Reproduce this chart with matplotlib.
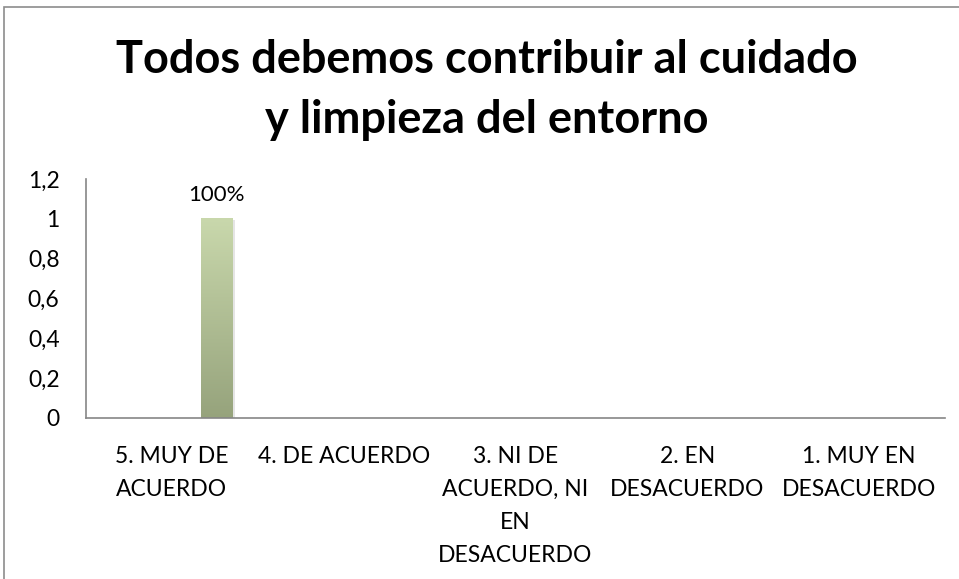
import matplotlib
matplotlib.use("Agg")
import matplotlib.pyplot as plt
import numpy as np
from matplotlib.patches import Rectangle

plt.rcParams['font.family'] = ['Lato', 'DejaVu Sans']

title_lines = ["Todos debemos contribuir al cuidado", "y limpieza del entorno"]
categories = ["5. MUY DE\nACUERDO", "4. DE ACUERDO", "3. NI DE\nACUERDO, NI\nEN\nDESACUERDO",
              "2. EN\nDESACUERDO", "1. MUY EN\nDESACUERDO"]
values = [1.0, 0, 0, 0, 0]
value_labels = ["100%", "", "", "", ""]
yticks = [0, 0.2, 0.4, 0.6, 0.8, 1.0, 1.2]
ytick_labels = ["0", "0,2", "0,4", "0,6", "0,8", "1", "1,2"]

W, H = 959, 579
fig = plt.figure(figsize=(W / 100, H / 100), dpi=100)

# outer chart border
fig.patches.append(Rectangle((4 / W, -0.1), 1.2, (579 - 7) / H + 0.1, transform=fig.transFigure,
                             fill=False, edgecolor="#8c8c8c", linewidth=1.2))

ax = fig.add_axes([86 / W, (579 - 418) / H, (945 - 86) / W, (418 - 179) / H])

x = np.arange(len(categories))
bar_offset = 0.262
bar_w = 0.186
top_c = np.array([201, 216, 172]) / 255
bot_c = np.array([150, 163, 124]) / 255
grad = np.linspace(0, 1, 256)[:, None, None]
img = bot_c * (1 - grad) + top_c * grad  # row 0 = bottom with origin lower

for xi, v, lab in zip(x, values, value_labels):
    if v <= 0:
        continue
    x0 = xi + bar_offset - bar_w / 2
    # soft shadow
    ax.add_patch(Rectangle((x0 + 0.012, 0), bar_w, v - 0.008, facecolor="#000000", alpha=0.10,
                           edgecolor="none", zorder=1))
    ax.imshow(img, extent=[x0, x0 + bar_w, 0, v], origin="lower", aspect="auto", zorder=2)
    ax.text(xi + bar_offset, v + 0.09, lab, ha="center", va="baseline", fontsize=16, color="black")

ax.set_xlim(-0.5, len(categories) - 0.5)
ax.set_ylim(0, 1.2)
ax.set_yticks(yticks)
ax.set_yticklabels(ytick_labels)
ax.set_xticks(x)
ax.set_xticklabels(categories, linespacing=1.72)
ax.tick_params(axis="y", length=0, pad=19, labelsize=16.5)
ax.tick_params(axis="x", length=0, pad=20, labelsize=16.5)
for s in ["top", "right"]:
    ax.spines[s].set_visible(False)
for s in ["left", "bottom"]:
    ax.spines[s].set_color("#868686")
    ax.spines[s].set_linewidth(1.2)

for line, base_y in zip(title_lines, [73, 133]):
    fig.text(487 / W, 1 - base_y / H, line, ha="center", va="baseline", fontsize=32.5,
             fontweight="bold")

fig.savefig("out.png", dpi=100)
